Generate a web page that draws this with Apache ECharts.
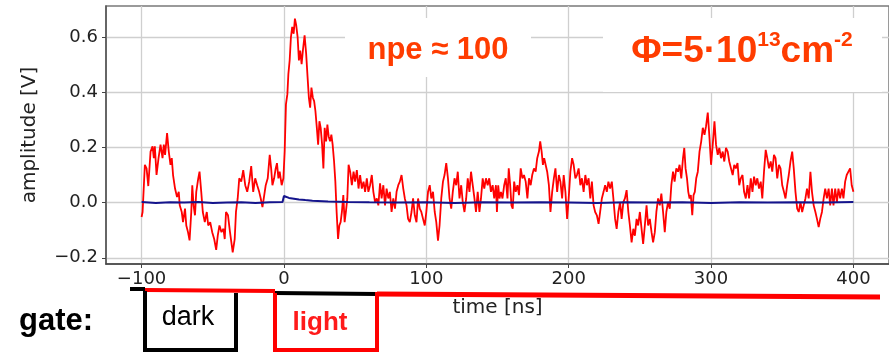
<!DOCTYPE html>
<html>
<head>
<meta charset="utf-8">
<script src="https://cdn.jsdelivr.net/npm/echarts@6/dist/echarts.min.js"></script>
<style>
  html, body {margin: 0; padding: 0; background: #fff;}
  #chart {width: 889px; height: 353px;}
</style>
</head>
<body>
<div id="chart"></div>
<script>
// red trace (irradiated, with light)
const redTime = [
  -100, -99.3, -98.4, -97.7, -96.5, -95.3, -93.7, -92.3, -91.4, -90.7, -89.5, -88.1, -86.7, -85.3, -84.4, -83.5,
  -82.1, -80.9, -79.7, -78.8, -77.9, -76.5, -75.1, -73.9, -73.2, -71.8, -70.9, -69.5, -68.6, -67.4, -66.3, -65.1,
  -64.4, -63.5, -62.5, -61.6, -60.2, -59.3, -58.1, -57.0, -55.6, -54.2, -53.2, -51.8, -50.4, -49.0, -47.6, -46.5,
  -45.3, -43.9, -42.5, -41.6, -40.7, -39.3, -37.9, -36.0, -34.6, -33.7, -32.5, -31.4, -30.0, -28.6, -27.2, -25.8,
  -24.4, -23.0, -21.6, -20.2, -18.8, -17.4, -16.3, -15.1, -13.9, -12.8, -11.4, -10.0, -9.0, -8.1, -6.9, -5.8,
  -4.9, -3.9, -3.0, -1.6, -0.4, 0.5, 1.4, 2.4, 3.1, 4.0, 4.9, 5.8, 6.8, 7.7, 8.6, 9.6,
  10.5, 11.4, 12.4, 13.3, 14.5, 15.6, 16.6, 17.5, 18.4, 19.3, 20.3, 21.2, 22.1, 23.1, 24.0, 24.9,
  25.8, 26.8, 27.7, 28.6, 29.6, 30.5, 31.4, 32.4, 33.3, 34.2, 35.2, 36.1, 37.0, 38.0, 38.9, 39.8,
  40.7, 41.7, 42.6, 43.5, 44.5, 45.4, 46.5, 47.7, 48.9, 50.0, 51.2, 52.4, 53.5, 54.7, 55.9, 57.0,
  58.2, 59.3, 60.5, 61.7, 62.8, 64.0, 65.2, 66.3, 67.5, 68.6, 69.8, 71.0, 72.1, 73.3, 74.4, 75.6,
  76.8, 78.0, 79.1, 80.3, 81.4, 82.6, 83.8, 84.9, 86.1, 87.2, 88.4, 89.6, 90.7, 91.9, 93.1, 94.2,
  95.4, 96.5, 97.7, 98.9, 100.0, 101.2, 102.4, 103.5, 104.7, 105.9, 107.0, 108.2, 109.3, 110.5, 111.7, 112.8,
  114.0, 115.2, 116.3, 117.5, 118.6, 119.8, 121.0, 122.1, 123.3, 124.5, 125.6, 126.8, 128.0, 129.1, 130.3, 131.4,
  132.6, 133.8, 134.9, 136.1, 137.3, 138.4, 139.6, 140.7, 141.9, 143.1, 144.2, 145.4, 146.6, 147.7, 148.9, 149.6,
  150.5, 151.4, 152.4, 153.5, 154.7, 155.8, 157.0, 157.9, 158.9, 159.8, 160.7, 161.7, 162.8, 164.0, 165.1, 166.3,
  167.5, 168.6, 169.8, 171.0, 172.1, 173.3, 174.4, 175.6, 176.8, 177.9, 179.1, 180.0, 181.0, 181.9, 182.8, 183.8,
  184.9, 186.1, 187.2, 188.4, 189.6, 190.7, 191.9, 193.1, 194.2, 195.4, 196.5, 197.7, 198.9, 200.0, 201.2, 202.4,
  203.5, 204.7, 205.8, 207.0, 208.2, 209.3, 210.5, 211.7, 212.8, 214.0, 215.2, 216.3, 217.5, 218.6, 219.8, 221.0,
  222.1, 223.3, 224.5, 225.6, 226.8, 227.9, 229.1, 230.3, 231.4, 232.6, 233.7, 234.9, 236.1, 237.2, 238.4, 239.5,
  240.7, 241.9, 243.0, 244.2, 245.4, 246.5, 247.7, 248.8, 250.0, 251.2, 252.3, 253.5, 254.7, 255.8, 257.0, 258.2,
  259.3, 260.5, 261.6, 262.8, 264.0, 265.1, 266.3, 267.5, 268.6, 269.8, 271.0, 272.1, 273.3, 274.4, 275.6, 276.8,
  277.9, 279.1, 280.3, 281.2, 282.1, 283.1, 284.0, 284.9, 285.8, 286.8, 287.7, 288.6, 289.6, 290.7, 291.9, 293.1,
  294.2, 295.4, 296.5, 297.7, 298.9, 300.0, 301.2, 302.4, 303.5, 304.7, 305.8, 307.0, 308.2, 309.3, 310.5, 311.7,
  312.8, 314.0, 315.2, 316.3, 317.4, 318.6, 319.8, 320.9, 322.1, 323.2, 324.4, 325.6, 326.7, 327.9, 329.1, 330.2,
  331.4, 332.5, 333.7, 334.9, 336.0, 337.2, 338.4, 339.5, 340.7, 341.9, 343.0, 344.2, 345.3, 346.5, 347.7, 348.8,
  350.0, 351.2, 352.3, 353.5, 354.6, 355.8, 357.0, 358.1, 359.3, 360.5, 361.6, 362.8, 364.0, 365.1, 366.3, 367.4,
  368.6, 369.8, 370.9, 372.1, 373.3, 374.4, 375.6, 376.7, 377.9, 379.1, 380.2, 381.4, 382.6, 383.7, 384.9, 386.0,
  387.2, 388.4, 389.5, 390.7, 391.9, 393.0, 394.2, 395.3, 396.5, 397.7, 398.8, 400.0
];
const redAmp = [
  -0.052, -0.034, -0.040, 0.137, 0.124, 0.060, 0.185, 0.204, 0.161, 0.204, 0.100, 0.161, 0.210, 0.161, 0.210, 0.173,
  0.252, 0.185, 0.137, 0.161, 0.100, 0.051, 0.020, 0.039, -0.010, -0.034, -0.071, -0.022, -0.083, -0.107, -0.137, -0.034,
  0.063, -0.010, -0.046, 0.039, 0.088, 0.112, 0.039, -0.034, -0.071, -0.034, -0.083, -0.071, -0.107, -0.132, -0.171, -0.120,
  -0.083, -0.107, -0.095, -0.132, -0.034, -0.046, -0.107, -0.180, -0.132, -0.034, 0.015, 0.088, 0.076, 0.118, 0.063, 0.039,
  0.076, 0.132, 0.039, 0.088, 0.063, 0.039, 0.015, -0.016, -0.010, 0.063, 0.088, 0.173, 0.124, 0.063, 0.088, 0.124,
  0.143, 0.088, 0.112, 0.063, 0.088, 0.185, 0.356, 0.393, 0.466, 0.515, 0.600, 0.637, 0.612, 0.667, 0.643, 0.600,
  0.515, 0.551, 0.502, 0.551, 0.606, 0.539, 0.454, 0.380, 0.344, 0.417, 0.380, 0.368, 0.332, 0.271, 0.210, 0.295,
  0.271, 0.210, 0.124, 0.271, 0.222, 0.283, 0.240, 0.222, 0.246, 0.210, 0.149, 0.076, -0.034, -0.132, -0.083, -0.071,
  -0.034, 0.027, -0.071, -0.034, 0.015, 0.137, 0.112, 0.063, 0.112, 0.076, 0.118, 0.051, 0.100, 0.051, 0.076, 0.039,
  0.088, 0.039, 0.063, 0.100, 0.039, 0.002, 0.015, -0.010, 0.070, 0.015, 0.063, -0.010, 0.051, 0.015, 0.039, -0.034,
  0.015, -0.022, 0.039, 0.063, 0.076, 0.100, 0.051, 0.015, -0.010, -0.059, -0.071, -0.034, 0.015, -0.046, -0.071, 0.015,
  -0.022, -0.034, -0.059, -0.083, -0.034, 0.039, 0.063, 0.015, 0.039, -0.034, -0.071, -0.138, -0.083, 0.015, 0.076, 0.100,
  0.143, 0.088, 0.015, -0.022, 0.039, 0.088, 0.063, 0.112, 0.015, 0.063, 0.002, -0.034, 0.015, 0.088, 0.039, 0.112,
  0.063, 0.015, -0.034, 0.039, -0.034, 0.015, 0.088, 0.051, 0.088, 0.063, 0.088, 0.039, 0.063, 0.015, 0.063, -0.034,
  0.063, 0.015, 0.039, 0.015, 0.063, 0.088, 0.015, 0.124, 0.063, -0.010, -0.022, 0.076, 0.039, 0.063, 0.027, 0.124,
  0.088, 0.100, 0.076, 0.015, 0.088, 0.063, 0.100, 0.124, 0.112, 0.161, 0.185, 0.222, 0.185, 0.137, 0.161, 0.137,
  0.112, 0.063, -0.034, 0.039, 0.088, 0.124, 0.039, 0.100, 0.076, 0.015, 0.100, 0.039, -0.059, 0.015, 0.112, 0.161,
  0.137, 0.088, 0.100, 0.124, 0.063, 0.088, 0.039, 0.100, 0.063, 0.088, 0.015, 0.076, -0.010, -0.034, -0.046, -0.077,
  -0.034, 0.015, 0.039, 0.063, 0.039, 0.076, 0.051, 0.076, 0.015, -0.059, -0.095, -0.034, 0.002, -0.059, 0.002, 0.015,
  0.045, -0.034, -0.083, -0.144, -0.095, -0.120, -0.059, -0.083, -0.034, -0.095, -0.150, -0.083, -0.010, -0.083, -0.059, -0.107,
  -0.144, -0.107, -0.034, 0.015, -0.010, 0.033, -0.034, -0.107, -0.034, 0.002, -0.022, 0.063, 0.112, 0.076, 0.124, 0.112,
  0.137, 0.088, 0.161, 0.198, 0.124, 0.088, 0.039, 0.015, 0.027, -0.046, 0.027, 0.039, 0.088, 0.112, 0.185, 0.222,
  0.271, 0.246, 0.277, 0.326, 0.234, 0.137, 0.210, 0.295, 0.210, 0.173, 0.198, 0.161, 0.185, 0.149, 0.198, 0.185,
  0.149, 0.124, 0.100, 0.137, 0.124, 0.143, 0.063, 0.088, 0.100, 0.039, 0.015, 0.063, 0.015, 0.088, 0.039, 0.094,
  0.063, 0.088, 0.051, 0.076, 0.015, 0.112, 0.191, 0.161, 0.124, 0.149, 0.112, 0.173, 0.161, 0.088, 0.137, 0.124,
  0.063, 0.039, 0.015, 0.063, 0.100, 0.149, 0.185, 0.124, 0.039, -0.022, -0.034, 0.002, -0.034, -0.010, 0.015, 0.051,
  0.015, 0.112, 0.039, -0.010, -0.034, -0.059, -0.089, -0.059, -0.034, 0.015, 0.051, 0.015, 0.051, -0.010, 0.051, -0.010,
  0.051, 0.002, 0.051, 0.015, 0.051, 0.015, 0.076, 0.100, 0.112, 0.124, 0.063, 0.039
];

// blue trace (reference), almost flat with a small bump after t=0
const blueTime = [-100, -90, -80, -70, -60, -50, -40, -30, -20, -10, -1, 0, 1, 3.5, 7, 10.5, 15, 20, 31, 45, 60,
  80, 100, 120, 140, 160, 180, 200, 220, 240, 260, 280, 300, 320, 340, 360, 380, 400];
const blueAmp = [0.002, -0.001, 0.001, 0.000, 0.002, -0.001, 0.000, 0.001, -0.001, 0.001, 0.002, 0.024, 0.022, 0.017, 0.014,
  0.011, 0.009, 0.007, 0.004, 0.002, 0.001, 0.000, 0.001, -0.001, 0.001, 0.000, 0.001, 0.000, -0.001, 0.001, 0.000,
  0.001, -0.001, 0.001, 0.000, 0.001, 0.000, 0.002];

const xTicks = [-100, 0, 100, 200, 300, 400];
const yTicks = [-0.2, 0.0, 0.2, 0.4, 0.6];

const red = redTime.map((t, i) => [t, redAmp[i]]);
const blue = blueTime.map((t, i) => [t, blueAmp[i]]);

const minus = s => String(s).replace('-', '\u2212');
const ORANGE = '#ff3c00';

var myChart = echarts.init(document.getElementById('chart'));
myChart.setOption({
  animation: false,
  grid: {left: 106, top: 6, width: 787, height: 258, show: true, borderColor: '#7a7a7a', borderWidth: 1.5},
  xAxis: {
    type: 'value', min: -125, max: 425,
    name: 'time [ns]', nameLocation: 'middle', nameGap: 34,
    nameTextStyle: {fontFamily: 'DejaVu Sans', fontSize: 20, color: '#222'},
    axisLine: {onZero: false, lineStyle: {color: '#444', width: 1.5}},
    axisTick: {customValues: xTicks, length: 4, lineStyle: {color: '#444'}},
    axisLabel: {customValues: xTicks, margin: 6, fontFamily: 'DejaVu Sans', fontSize: 18, color: '#222',
      formatter: v => minus(v)},
    splitLine: {show: true, lineStyle: {color: '#cfcfcf', width: 1.3}}
  },
  yAxis: {
    type: 'value', min: -0.2225, max: 0.7125,
    name: 'amplitude [V]', nameLocation: 'middle', nameGap: 66,
    nameTextStyle: {fontFamily: 'DejaVu Sans', fontSize: 20, color: '#222'},
    axisLine: {show: true, onZero: false, lineStyle: {color: '#555', width: 1.5}},
    axisTick: {show: true, customValues: yTicks, length: 4, lineStyle: {color: '#444'}},
    axisLabel: {customValues: yTicks, margin: 8, fontFamily: 'DejaVu Sans', fontSize: 18, color: '#222',
      formatter: v => minus(v.toFixed(1))},
    splitLine: {show: true, lineStyle: {color: '#cfcfcf', width: 1.3}}
  },
  series: [
    {type: 'line', data: red, showSymbol: false, lineStyle: {color: '#ff0000', width: 1.8}, z: 3},
    {type: 'line', data: blue, showSymbol: false, lineStyle: {color: '#14148c', width: 2}, z: 4}
  ],
  graphic: [
    // npe label
    {type: 'rect', z: 100, shape: {x: 345, y: 18, width: 186, height: 59}, style: {fill: '#fff'}},
    {type: 'text', z: 101, x: 438, y: 50, style: {text: 'npe \u2248 100', font: 'bold 31px "Liberation Sans", Arial',
      fill: ORANGE, align: 'center', verticalAlign: 'middle'}},
    // fluence label
    {type: 'rect', z: 100, shape: {x: 603, y: 18, width: 279, height: 74}, style: {fill: '#fff'}},
    {type: 'text', z: 101, x: 742, y: 50, style: {
      text: '{a|\u03a6=5\u00b710}{b|13}{a|cm}{b|-2}', align: 'center', verticalAlign: 'middle',
      rich: {
        a: {fontFamily: 'Liberation Sans', fontWeight: 'bold', fontSize: 37, lineHeight: 40, fill: ORANGE, verticalAlign: 'bottom'},
        b: {fontFamily: 'Liberation Sans', fontWeight: 'bold', fontSize: 21, lineHeight: 21, fill: ORANGE, verticalAlign: 'top'}
      }}},
    // gate sketch
    {type: 'text', z: 101, x: 19, y: 337, style: {text: 'gate:', font: 'bold 31px "Liberation Sans", Arial',
      fill: '#000', align: 'left', verticalAlign: 'bottom'}},
    {type: 'polyline', z: 100, shape: {points: [[130, 289], [145, 289]]}, style: {stroke: '#000', lineWidth: 4}},
    {type: 'polyline', z: 100, shape: {points: [[145, 290], [275, 291]]}, style: {stroke: '#ff0000', lineWidth: 4}},
    {type: 'polyline', z: 100, shape: {points: [[275, 293], [377, 294]]}, style: {stroke: '#000', lineWidth: 4}},
    {type: 'polyline', z: 100, shape: {points: [[377, 294], [880, 297]]}, style: {stroke: '#ff0000', lineWidth: 5}},
    {type: 'polyline', z: 100, shape: {points: [[145, 291], [145, 350], [236, 350], [236, 293]]},
      style: {stroke: '#000', lineWidth: 4, fill: null}},
    {type: 'polyline', z: 100, shape: {points: [[275, 293], [275, 350], [377, 350], [377, 292]]},
      style: {stroke: '#ff0000', lineWidth: 4, fill: null}},
    {type: 'text', z: 101, x: 188, y: 318, style: {text: 'dark', font: '27px "Liberation Sans", Arial',
      fill: '#000', align: 'center', verticalAlign: 'middle'}},
    {type: 'text', z: 101, x: 320, y: 323, style: {text: 'light', font: 'bold 26px "Liberation Sans", Arial',
      fill: '#ff1a1a', align: 'center', verticalAlign: 'middle'}}
  ]
});
</script>
</body>
</html>
